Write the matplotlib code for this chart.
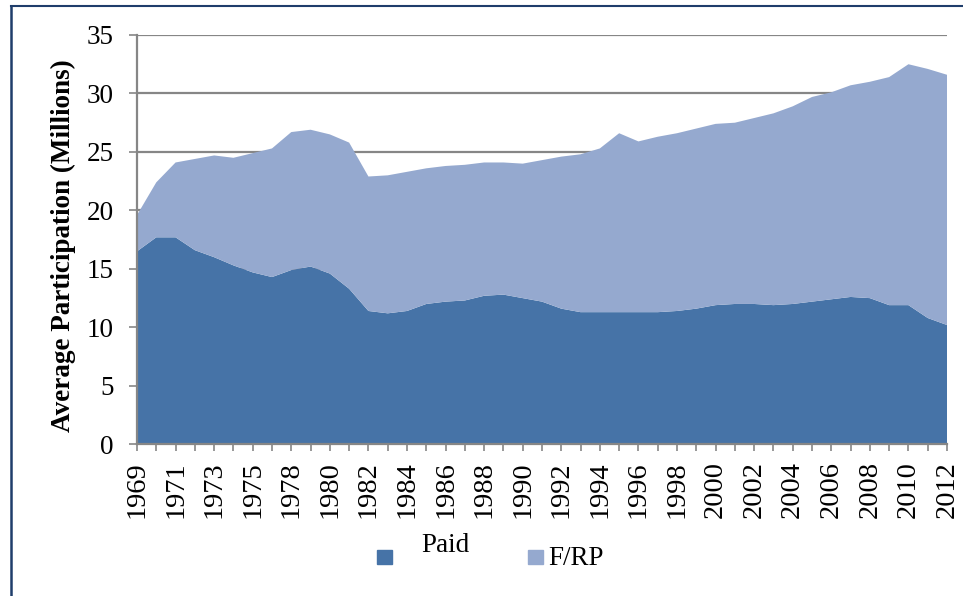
import matplotlib.pyplot as plt
from matplotlib.patches import Rectangle
from matplotlib.lines import Line2D

# years on the category axis (1977 is not in the series)
years = [str(y) for y in range(1969, 1977)] + [str(y) for y in range(1978, 2013)]

# average participation, millions
paid = [16.5, 17.7, 17.7, 16.6, 16.0, 15.3, 14.7, 14.3, 14.9, 15.2, 14.6, 13.3,
        11.4, 11.2, 11.4, 12.0, 12.2, 12.3, 12.7, 12.8, 12.5, 12.2, 11.6, 11.3,
        11.3, 11.3, 11.3, 11.3, 11.4, 11.6, 11.9, 12.0, 12.0, 11.9, 12.0, 12.2,
        12.4, 12.6, 12.5, 11.9, 11.9, 10.8, 10.2]
frp = [3.1, 4.7, 6.4, 7.8, 8.7, 9.2, 10.2, 11.0, 11.8, 11.7, 11.9, 12.5,
       11.5, 11.8, 11.9, 11.6, 11.6, 11.6, 11.4, 11.3, 11.5, 12.1, 13.0, 13.5,
       14.0, 15.3, 14.6, 15.0, 15.2, 15.4, 15.5, 15.5, 15.9, 16.4, 16.9, 17.5,
       17.7, 18.1, 18.5, 19.5, 20.6, 21.3, 21.4]
series_names = ['Paid', 'F/RP']
colors = ['#4673A7', '#95A9CF']

plt.rcParams['font.family'] = ['Liberation Serif', 'DejaVu Serif']

W, H = 963, 596
fig = plt.figure(figsize=(W / 100, H / 100), dpi=100)


def fx(px):
    return px / W


def fy(py):
    return 1 - py / H


ax = fig.add_axes([fx(137), fy(444.3), fx(947) - fx(137), fy(35) - fy(444.3)])

x = list(range(len(years)))
ax.stackplot(x, paid, frp, colors=colors, labels=series_names, zorder=2)

ax.set_xlim(0, len(years) - 1)
ax.set_ylim(0, 35)
ax.set_yticks(range(0, 36, 5))
ax.set_xticks(x)
ax.set_xticklabels([y if i % 2 == 0 else '' for i, y in enumerate(years)], rotation=90)

grid_c = '#868686'
ax.yaxis.grid(True, color=grid_c, linewidth=1.6, zorder=0)
ax.set_axisbelow(True)
for s in ['top', 'right']:
    ax.spines[s].set_visible(False)
for s in ['left', 'bottom']:
    ax.spines[s].set_color(grid_c)
    ax.spines[s].set_linewidth(1.6)
    ax.spines[s].set_zorder(3)
ax.tick_params(axis='y', direction='out', length=6, width=1.2, color=grid_c,
               labelsize=19.5, pad=11)
ax.tick_params(axis='x', direction='out', length=5, width=1.2, color=grid_c,
               labelsize=20.5, pad=7)

fig.text(fx(63), fy(246), 'Average Participation (Millions)', rotation=90,
         ha='center', va='center', fontsize=19.5, fontweight='bold')

# legend (the Paid label sits a bit higher than its key)
fig.patches.append(Rectangle((fx(377), fy(564.3)), fx(392.3) - fx(377), fy(550) - fy(564.3),
                             transform=fig.transFigure, color=colors[0]))
fig.text(fx(421.5), fy(551.7), series_names[0], fontsize=19.5, va='baseline')
fig.patches.append(Rectangle((fx(527.7), fy(564.3)), fx(542.7) - fx(527.7), fy(550) - fy(564.3),
                             transform=fig.transFigure, color=colors[1]))
fig.text(fx(548.5), fy(565), series_names[1], fontsize=19.5, va='baseline')

# chart frame, only the top and left edges are in view
frame_c = '#1F3D6B'
fig.lines.append(Line2D([fx(11), fx(W)], [fy(6), fy(6)], transform=fig.transFigure,
                        color=frame_c, linewidth=1.5))
fig.lines.append(Line2D([fx(11), fx(11)], [fy(6), fy(H)], transform=fig.transFigure,
                        color=frame_c, linewidth=1.8))

fig.savefig('out.png', dpi=100)
